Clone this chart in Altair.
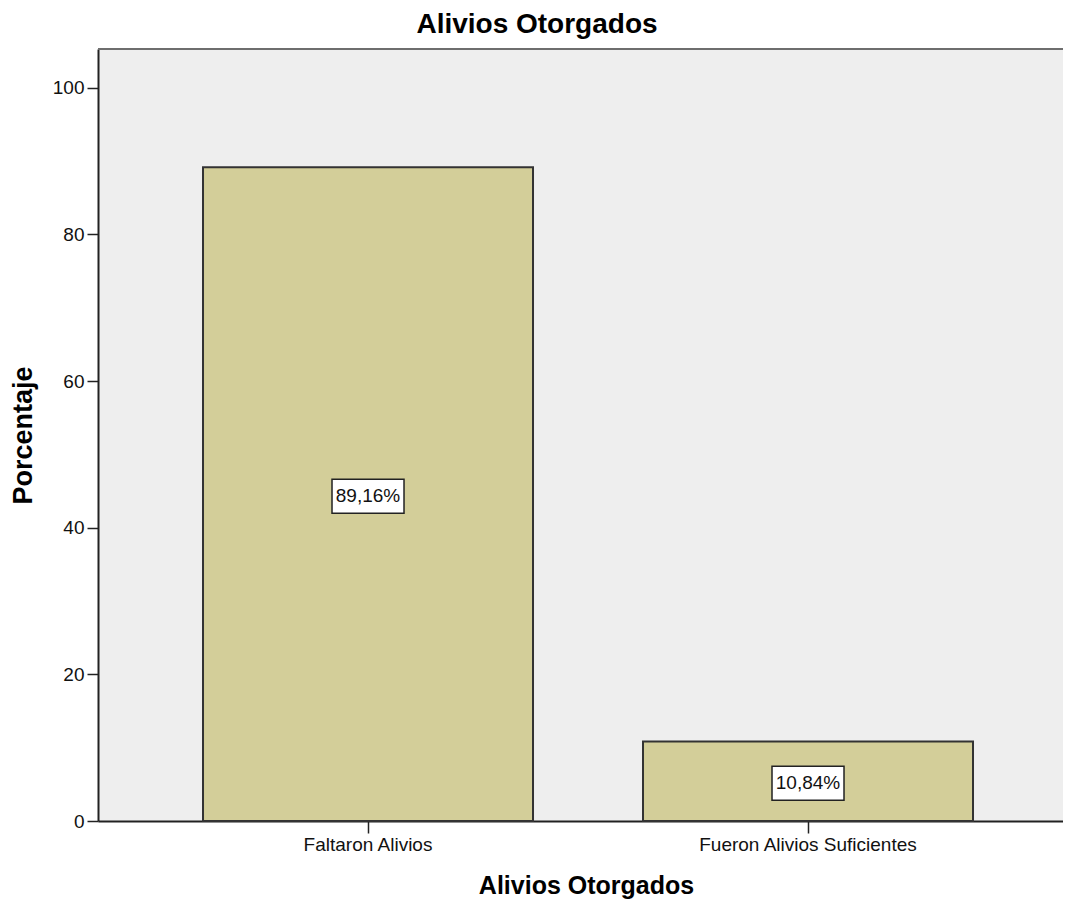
import altair as alt
import pandas as pd

categories = ["Faltaron Alivios", "Fueron Alivios Suficientes"]
percentages = [89.16, 10.84]
y_ticks = [0, 20, 40, 60, 80, 100]

labels = [f"{v:.2f}".replace(".", ",") + "%" for v in percentages]
df = pd.DataFrame({"cat": categories, "pct": percentages, "label": labels})
df["mid"] = df["pct"] / 2

W, H = 965, 772
FONT = "Liberation Sans"

x_enc = alt.X(
    "cat:N",
    sort=categories,
    scale=alt.Scale(paddingInner=0.25, paddingOuter=0.2216, align=0.5385),
    axis=alt.Axis(
        title="Alivios Otorgados",
        titleFont=FONT, titleFontSize=25, titleFontWeight="bold", titleColor="#000",
        titleX=488, titleY=72, titleBaseline="alphabetic", titleAlign="center",
        labelFont=FONT, labelFontSize=19, labelColor="#111", labelAngle=0, labelPadding=2,
        labelLimit=0,
        tickSize=12, tickColor="#222", tickWidth=1.5,
        domainColor="#222", domainWidth=2, grid=False,
    ),
)
y_scale = alt.Scale(domain=[0, 105.3], nice=False, zero=True)

bars = alt.Chart(df).mark_bar(
    color="#d3ce99", stroke="#333333", strokeWidth=2
).encode(
    x=x_enc,
    y=alt.Y(
        "pct:Q",
        scale=y_scale,
        axis=alt.Axis(
            title="Porcentaje", values=y_ticks,
            titleFont=FONT, titleFontSize=27, titleFontWeight="bold", titleColor="#000",
            titleX=-75, titleY=386, titleAngle=-90, titleBaseline="middle", titleAlign="center",
            labelFont=FONT, labelFontSize=19, labelColor="#111", labelPadding=3,
            tickSize=11, tickColor="#222", tickWidth=1.5,
            domainColor="#222", domainWidth=2, grid=False,
        ),
    ),
)

boxes = alt.Chart(df).mark_point(
    shape="M-1,-0.472L1,-0.472L1,0.472L-1,0.472Z",
    size=5184, filled=True, fill="white", stroke="#222", strokeWidth=1.5,
    opacity=1, yOffset=2,
).encode(
    x=alt.X("cat:N", sort=categories),
    y=alt.Y("mid:Q", scale=y_scale),
)

texts = alt.Chart(df).mark_text(
    font=FONT, fontSize=19, color="#111", baseline="middle", align="center", dy=2,
).encode(
    x=alt.X("cat:N", sort=categories),
    y=alt.Y("mid:Q", scale=y_scale),
    text="label:N",
)

top_border = alt.Chart(df).mark_rule(color="#6e6e6e", strokeWidth=2).encode(
    x=alt.value(0), x2=alt.value(W), y=alt.value(0)
)

chart = alt.layer(bars, boxes, texts, top_border).properties(
    width=W,
    height=H,
    title=alt.Title(
        "Alivios Otorgados", font=FONT, fontSize=28, fontWeight="bold",
        color="#000", anchor="middle", dx=-43.5, offset=9,
    ),
    background="white",
    autosize=alt.AutoSizeParams(type="none"),
    padding={"left": 90, "top": 41, "right": 0, "bottom": 78},
).configure_view(fill="#eeeeee", strokeWidth=0)

chart.save("out.html", embed_options={"renderer": "svg", "actions": False})
